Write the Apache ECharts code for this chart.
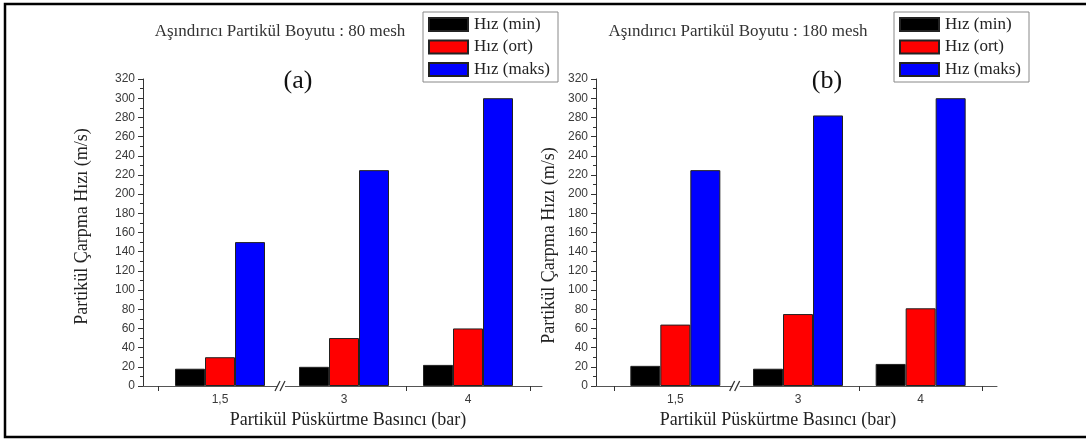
<!DOCTYPE html>
<html>
<head>
<meta charset="utf-8">
<script src="https://cdn.jsdelivr.net/npm/echarts@6/dist/echarts.min.js"></script>
<style>html,body{margin:0;padding:0;background:#fff}#c{width:1086px;height:439px}</style>
</head>
<body>
<div id="c"></div>
<script>
// ---- data ----
const categories = ['1,5', '3', '4'];
const seriesNames = ['Hız (min)', 'Hız (ort)', 'Hız (maks)'];
const minA = [18, 20, 22];
const ortA = [30, 50, 60];
const maksA = [150, 225, 300];
const minB = [21, 18, 23];
const ortB = [64, 75, 81];
const maksB = [225, 282, 300];
const yMin = 0, yMax = 320, yStep = 20;
const titleA = 'Aşındırıcı Partikül Boyutu : 80 mesh';
const titleB = 'Aşındırıcı Partikül Boyutu : 180 mesh';
const yTitle = 'Partikül Çarpma Hızı (m/s)';
const xTitle = 'Partikül Püskürtme Basıncı (bar)';

const colors = ['#000000', '#ff0000', '#0000ff'];
const serif = 'Liberation Serif, Times New Roman, serif';
const sans = 'Liberation Sans, Arial, sans-serif';

const chart = echarts.init(document.getElementById('c'), null, {renderer: 'canvas'});

function yAxisCfg(gridIndex, offset, nameGap, namePad) {
  return {
    type: 'value', gridIndex, min: yMin, max: yMax, interval: yStep, offset,
    name: yTitle, nameLocation: 'middle', nameGap,
    nameTextStyle: {fontFamily: serif, fontSize: 18, color: '#222', padding: namePad},
    axisLine: {show: true, lineStyle: {color: '#333', width: 1}},
    axisTick: {show: true, length: 5, lineStyle: {color: '#333'}},
    minorTick: {show: true, splitNumber: 2, length: 3, lineStyle: {color: '#333'}},
    splitLine: {show: false},
    axisLabel: {fontFamily: sans, fontSize: 12, color: '#3a3a3a', margin: 8}
  };
}
function xAxisCfg(gridIndex) {
  return {
    type: 'category', gridIndex, data: categories, boundaryGap: true,
    axisLine: {show: false},
    axisTick: {show: true, length: 5, interval: (i) => i !== 1, lineStyle: {color: '#333'}},
    axisLabel: {fontFamily: sans, fontSize: 12, color: '#3a3a3a', margin: 8}
  };
}
function lineAxisX(gridIndex) {
  return {type: 'value', gridIndex, min: 0, max: 1, axisLine: {show: true, onZero: false, lineStyle: {color: '#555', width: 1}},
    axisTick: {show: false}, axisLabel: {show: false}, splitLine: {show: false}};
}
function lineAxisY(gridIndex) {
  return {type: 'value', gridIndex, min: 0, max: 1, show: false};
}
function barSeries(name, data, idx, axis) {
  return {
    type: 'bar', name, data, xAxisIndex: axis, yAxisIndex: axis,
    barWidth: 30, barGap: '0%',
    itemStyle: {color: colors[idx], borderColor: '#222', borderWidth: 1}
  };
}
function legendCfg(left) {
  return {
    left, top: 12, orient: 'vertical', data: seriesNames,
    itemWidth: 39, itemHeight: 13, itemGap: 5.5, icon: 'rect',
    padding: [4, 8, 4, 5], borderColor: '#888', borderWidth: 1,
    textStyle: {fontFamily: serif, fontSize: 17, color: '#222', padding: [0, 0, 0, 1]}
  };
}

const option = {
  animation: false,
  backgroundColor: '#fff',
  title: [
    {text: titleA, left: 275, top: 18, textAlign: 'center', textStyle: {fontFamily: serif, fontSize: 17, fontWeight: 'normal', color: '#333'}},
    {text: titleB, left: 733, top: 18, textAlign: 'center', textStyle: {fontFamily: serif, fontSize: 17, fontWeight: 'normal', color: '#333'}},
    {text: '(a)', left: 293, top: 63, textAlign: 'center', textStyle: {fontFamily: serif, fontSize: 26, fontWeight: 'normal', color: '#111'}},
    {text: '(b)', left: 822, top: 63, textAlign: 'center', textStyle: {fontFamily: serif, fontSize: 26, fontWeight: 'normal', color: '#111'}},
    {text: xTitle, left: 343, top: 406, textAlign: 'center', textStyle: {fontFamily: serif, fontSize: 18, fontWeight: 'normal', color: '#222'}},
    {text: xTitle, left: 773, top: 406, textAlign: 'center', textStyle: {fontFamily: serif, fontSize: 18, fontWeight: 'normal', color: '#222'}}
  ],
  legend: [legendCfg(423), legendCfg(894)],
  grid: [
    {left: 158, top: 79, width: 372, height: 307},
    {left: 614, top: 79, width: 368, height: 307},
    {left: 143, top: 79, width: 399, height: 307},
    {left: 596, top: 79, width: 401, height: 307}
  ],
  xAxis: [xAxisCfg(0), xAxisCfg(1), lineAxisX(2), lineAxisX(3)],
  yAxis: [yAxisCfg(0, 15, 52, [0, 0, 0, 12]), yAxisCfg(1, 18, 38, [0, 26, 0, 0]), lineAxisY(2), lineAxisY(3)],
  series: [
    barSeries(seriesNames[0], minA, 0, 0),
    barSeries(seriesNames[1], ortA, 1, 0),
    barSeries(seriesNames[2], maksA, 2, 0),
    barSeries(seriesNames[0], minB, 0, 1),
    barSeries(seriesNames[1], ortB, 1, 1),
    barSeries(seriesNames[2], maksB, 2, 1)
  ]
};
chart.setOption(option);

// axis break marks between the first and second category, located through the axis scales
function breakGraphics(axisIdx) {
  const c0 = chart.convertToPixel({xAxisIndex: axisIdx}, 0);
  const c1 = chart.convertToPixel({xAxisIndex: axisIdx}, 1);
  const y = chart.convertToPixel({yAxisIndex: axisIdx}, 0);
  const bx = (c0 + c1) / 2;
  return [
    {type: 'rect', z: 100, shape: {x: bx - 4, y: y - 2, width: 7, height: 4}, style: {fill: '#fff'}},
    {type: 'line', z: 101, shape: {x1: bx - 7, y1: y + 5, x2: bx - 2, y2: y - 5}, style: {stroke: '#333', lineWidth: 1.3}},
    {type: 'line', z: 101, shape: {x1: bx - 2, y1: y + 5, x2: bx + 3, y2: y - 5}, style: {stroke: '#333', lineWidth: 1.3}}
  ];
}
chart.setOption({
  graphic: [
    {type: 'rect', z: 100, shape: {x: 5, y: 4, width: 1100, height: 433}, style: {fill: 'none', stroke: '#000', lineWidth: 2.5}},
    ...breakGraphics(0),
    ...breakGraphics(1)
  ]
});
</script>
</body>
</html>
